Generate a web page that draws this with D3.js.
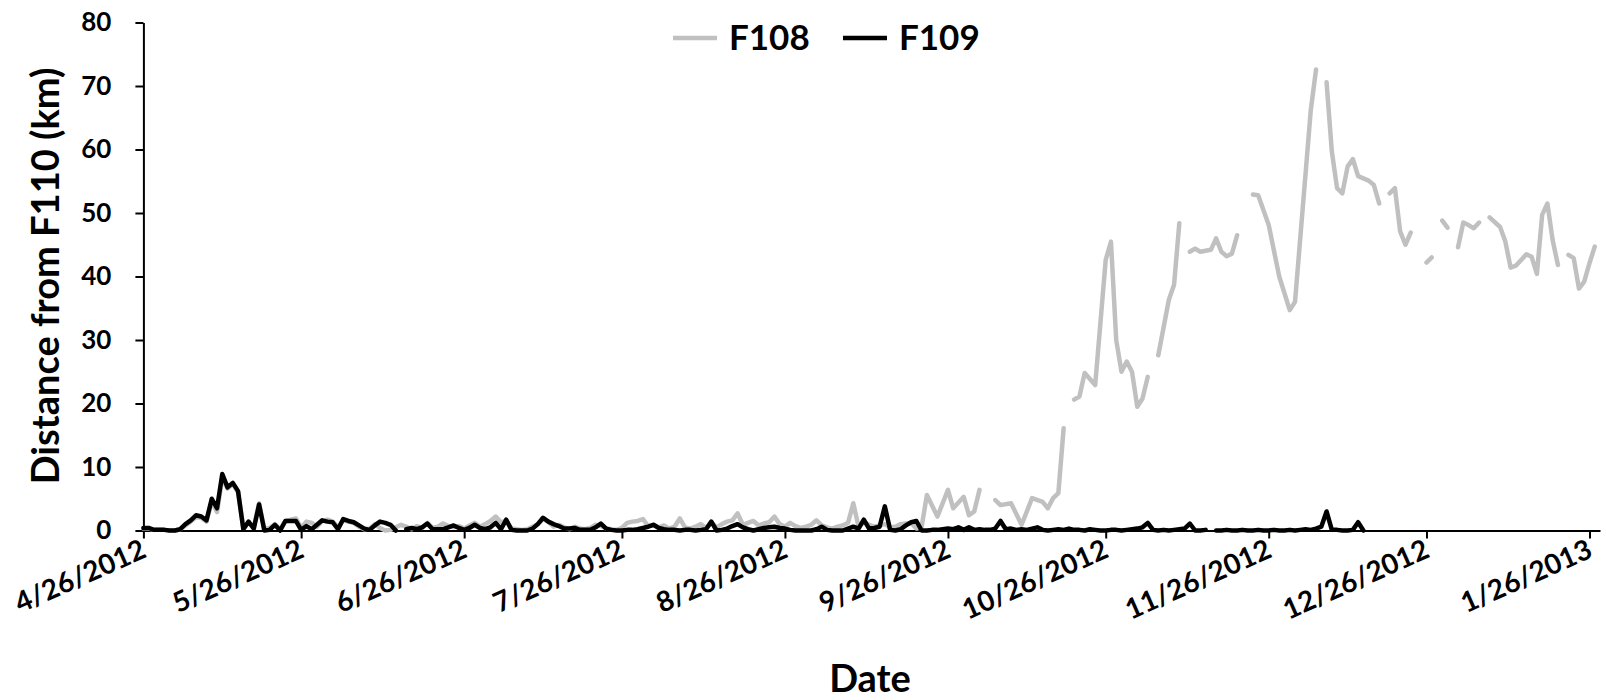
<!DOCTYPE html>
<html>
<head>
<meta charset="utf-8">
<script src="https://cdn.jsdelivr.net/npm/d3@7"></script>
<style>
  body { margin: 0; background: #fff; }
  .chart text { font-family: Lato, "Open Sans", sans-serif; font-weight: bold; fill: #000; }
  .axis path, .axis line { stroke: #000; stroke-width: 2; }
</style>
</head>
<body>
<div class="chart"></div>
<script>

var svgWidth = 1606;
var svgHeight = 700;

var margin = { top: 22.5, right: 6, bottom: 169.5, left: 143.4 };
var width = svgWidth - margin.left - margin.right;
var height = svgHeight - margin.top - margin.bottom;

// x axis runs from the first reading to a couple of days past the last tick
var axisStart = "4/26/2012";
var axisEnd = "1/28/2013";
var tickLabels = ["4/26/2012", "5/26/2012", "6/26/2012", "7/26/2012", "8/26/2012",
  "9/26/2012", "10/26/2012", "11/26/2012", "12/26/2012", "1/26/2013"];
var yTicks = [0, 10, 20, 30, 40, 50, 60, 70, 80];

// F109: one reading per day starting 4/26/2012 (null = missing day)
var f109Values = [
  0.4, 0.4, 0.1, 0.1, 0.1, 0.0, 0.0, 0.2, 1.0, 1.6, 2.4, 2.2, 1.6, 5.0, 3.5, 8.9, 6.8, 7.5, 6.2, 0.2,
  1.4, 0.3, 4.1, 0.0, 0.1, 0.9, 0.0, 1.5, 1.5, 1.5, 0.1, 0.7, 0.2, 0.9, 1.6, 1.4, 1.3, 0.2, 1.8, 1.5,
  1.3, 0.8, 0.3, 0.1, 0.8, 1.4, 1.2, 0.9, 0.0, null, 0.2, 0.4, 0.2, 0.5, 1.1, 0.2, 0.2, 0.2, 0.5, 0.8,
  0.4, 0.1, 0.4, 0.9, 0.4, 0.2, 0.5, 1.2, 0.2, 1.7, 0.1, 0.0, 0.0, 0.0, 0.3, 1.0, 2.0, 1.4, 1.0, 0.7,
  0.3, 0.3, 0.4, 0.1, 0.1, 0.1, 0.5, 1.1, 0.3, 0.1, 0.0, 0.0, 0.1, 0.1, 0.2, 0.4, 0.6, 0.9, 0.4, 0.2,
  0.1, 0.1, 0.0, 0.1, 0.1, 0.0, 0.1, 0.2, 1.4, 0.0, 0.1, 0.3, 0.7, 1.0, 0.5, 0.2, 0.0, 0.2, 0.4, 0.5,
  0.6, 0.4, 0.3, 0.1, 0.0, 0.0, 0.0, 0.0, 0.2, 0.6, 0.1, 0.0, 0.0, 0.0, 0.3, 0.6, 0.3, 1.7, 0.3, 0.4,
  0.6, 3.8, 0.1, 0.0, 0.2, 0.8, 1.3, 1.5, 0.0, 0.0, 0.1, 0.1, 0.2, 0.3, 0.2, 0.5, 0.1, 0.5, 0.1, 0.2,
  0.1, 0.1, 0.3, 1.5, 0.2, 0.3, 0.1, 0.2, 0.1, 0.3, 0.5, 0.1, 0.0, 0.1, 0.2, 0.1, 0.3, 0.1, 0.1, 0.0,
  0.2, 0.1, 0.0, 0.0, 0.1, 0.1, 0.0, 0.1, 0.2, 0.3, 0.5, 1.2, 0.1, 0.0, 0.1, 0.0, 0.1, 0.2, 0.3, 1.1,
  0.0, 0.0, 0.1, null, 0.0, 0.0, 0.1, 0.0, 0.0, 0.1, 0.0, 0.0, 0.1, 0.0, 0.0, 0.1, 0.0, 0.0, 0.1, 0.0,
  0.1, 0.2, 0.1, 0.3, 0.6, 3.0, 0.1, 0.1, 0.0, 0.0, 0.1, 1.3, 0.0
];

// F108: day number since 4/26/2012 and distance (null = gap in the record)
var f108Days = [
  0, 1, 2, 3, 4, 5, 6, 7, 8, 9, 10, 11, 12, 13, 14, 15, 16, 17, 18, 19,
  20, 21, 22, 23, 24, 25, 26, 27, 28, 29, 30, 31, 32, 33, 34, 35, 36, 37, 38, 39,
  40, 41, 42, 43, 44, 45, 46, 47, 48, 49, 50, 51, 52, 53, 54, 55, 56, 57, 58, 59,
  60, 61, 62, 63, 64, 65, 66, 67, 68, 69, 70, 71, 72, 73, 74, 75, 76, 77, 78, 79,
  80, 81, 82, 83, 84, 85, 86, 87, 88, 89, 90, 91, 92, 93, 94, 95, 96, 97, 98, 99,
  100, 101, 102, 103, 104, 105, 106, 107, 108, 109, 110, 111, 112, 113, 114, 115, 116, 117, 118, 119,
  120, 121, 122, 123, 124, 125, 126, 127, 128, 129, 130, 131, 132, 133, 134, 135, 136, 137, 138, 139,
  140, 141, 142, 143, 144, 145, 146, 147, 148,
  149, 151, 153, 154, 156, 157, 158, 159, 160,
  162, 163, 165, 167, 169, 171, 172, 173, 174, 175, 176,
  177, 178, 179, 181, 183, 184, 185, 186, 187, 188, 189, 190, 191, 192,
  193, 195, 196, 197, 198,
  199, 200, 201, 203, 204, 205, 206, 207, 208, 209,
  211, 212, 214, 216, 218, 219, 222, 223, 224,
  225, 226, 227, 228, 229, 230, 231, 233, 234, 235, 236,
  237, 238, 239, 240, 241, 242,
  244, 245, 246,
  247, 248, 249,
  250, 251, 252, 253, 254, 255,
  256, 258, 259, 260, 261, 263, 264, 265, 266, 267, 268, 269, 270,
  271, 272, 273, 274, 275, 276
];
var f108Values = [
  0.3, 0.3, 0.1, 0.1, 0.1, 0.0, 0.0, 0.2, 0.8, 1.4, 2.1, 2.0, 1.4, 4.6, 2.9, 8.3, 6.6, 7.3, 6.0, 0.5,
  1.2, 0.5, 4.3, 0.3, 0.4, 1.0, 0.2, 1.5, 1.7, 1.9, 0.4, 1.4, 1.2, 0.6, 1.5, 1.7, 1.4, 0.5, 1.6, 1.4,
  1.2, 0.6, 0.2, 0.3, 1.0, 0.4, 0.0, 0.1, 0.5, 0.9, 0.6, 0.2, 0.7, 0.4, 1.2, 0.4, 0.6, 1.1, 0.7, 0.5,
  0.7, 0.3, 0.8, 1.2, 0.6, 1.0, 1.5, 2.2, 1.3, 1.5, 0.3, 0.2, 0.1, 0.2, 0.6, 1.0, 1.8, 1.4, 0.6, 0.9,
  0.5, 0.2, 0.6, 0.3, 0.2, 0.4, 0.9, 0.7, 0.3, 0.2, 0.1, 0.4, 1.2, 1.4, 1.5, 1.8, 0.7, 0.9, 0.5, 0.8,
  0.3, 0.6, 1.9, 0.5, 0.3, 0.6, 1.0, 0.4, 1.3, 0.5, 1.0, 1.4, 1.6, 2.7, 0.9, 1.2, 1.5, 0.8, 1.1, 1.3,
  2.2, 1.0, 0.6, 1.2, 0.7, 0.4, 0.6, 0.9, 1.6, 0.8, 0.5, 0.3, 0.6, 0.8, 1.2, 4.3, 0.6, 1.3, 0.9, 0.6,
  0.8, 1.0, 0.5, 0.6, 1.0, 1.1, 1.2, 0.3, 0.6,
  5.6, 2.2, 6.4, 3.5, 5.3, 2.4, 3.0, 6.4, null,
  4.8, 4.0, 4.3, 0.9, 5.1, 4.5, 3.5, 5.1, 5.9, 16.1, null,
  20.6, 21.1, 24.8, 22.9, 42.6, 45.5, 30.0, 25.0, 26.6, 25.0, 19.5, 20.8, 24.2, null,
  27.6, 36.3, 38.7, 48.4, null,
  43.9, 44.4, 43.9, 44.2, 46.0, 43.9, 43.2, 43.6, 46.5, null,
  52.9, 52.8, 48.1, 40.0, 34.7, 36.0, 66.2, 72.6, null,
  70.6, 59.7, 53.9, 53.1, 57.3, 58.5, 55.8, 55.1, 54.4, 51.5, null,
  53.1, 53.9, 47.1, 45.0, 46.9, null,
  42.2, 43.0, null,
  48.8, 47.7, null,
  44.6, 48.5, 48.1, 47.6, 48.5, null,
  49.3, 47.8, 45.5, 41.4, 41.7, 43.5, 43.1, 40.4, 49.7, 51.5, 45.7, 41.8, null,
  43.4, 42.9, 38.1, 39.2, 42.1, 44.7
];

var parseDate = d3.timeParse("%m/%d/%Y");
var start = parseDate(axisStart);

var f108 = f108Days.map(function(d, i) {
  return { date: d3.timeDay.offset(start, d), value: f108Values[i] };
});
var f109 = f109Values.map(function(v, i) {
  return { date: d3.timeDay.offset(start, i), value: v };
});

var svg = d3.select(".chart")
  .append("svg")
  .attr("width", svgWidth)
  .attr("height", svgHeight);

var chartGroup = svg.append("g").attr("transform", `translate(${margin.left}, ${margin.top})`);

// scales
var xTimeScale = d3.scaleTime()
  .domain([start, parseDate(axisEnd)])
  .range([0, width]);
var yLinearScale = d3.scaleLinear().domain([0, 80]).range([height, 0]);

// axes
var xaxis = d3.axisBottom(xTimeScale)
  .tickValues(tickLabels.map(parseDate))
  .tickFormat(d3.timeFormat("%-m/%-d/%Y"))
  .tickSize(8)
  .tickSizeOuter(0);
var yaxis = d3.axisLeft(yLinearScale)
  .tickValues(yTicks)
  .tickSize(8)
  .tickSizeOuter(0)
  .tickPadding(24);

var xGroup = chartGroup.append("g")
  .attr("class", "axis")
  .attr("transform", `translate(0, ${height})`)
  .call(xaxis);
xGroup.selectAll("text")
  .attr("x", 0)
  .attr("y", 0)
  .attr("dy", 0)
  .attr("text-anchor", "end")
  .attr("transform", "translate(4, 26) rotate(-24)")
  .style("font-size", "28px");

var yGroup = chartGroup.append("g")
  .attr("class", "axis")
  .call(yaxis);
yGroup.selectAll("text").style("font-size", "26px");

// lines
var line = d3.line()
  .defined(d => d.value !== null)
  .x(d => xTimeScale(d.date))
  .y(d => yLinearScale(d.value));

chartGroup.append("path")
  .datum(f108)
  .attr("d", line)
  .attr("fill", "none")
  .attr("stroke", "#c0c0c0")
  .attr("stroke-width", 4.5)
  .attr("stroke-linejoin", "round")
  .attr("stroke-linecap", "round");

chartGroup.append("path")
  .datum(f109)
  .attr("d", line)
  .attr("fill", "none")
  .attr("stroke", "#000")
  .attr("stroke-width", 4.5)
  .attr("stroke-linejoin", "round")
  .attr("stroke-linecap", "round");

// legend
var legend = svg.append("g").attr("transform", "translate(673, 38)");
var legendItems = [
  { name: "F108", color: "#c0c0c0", x: 0 },
  { name: "F109", color: "#000", x: 170 }
];
legendItems.forEach(function(item) {
  legend.append("line")
    .attr("x1", item.x).attr("x2", item.x + 44)
    .attr("y1", 0).attr("y2", 0)
    .attr("stroke", item.color)
    .attr("stroke-width", 4.5);
  legend.append("text")
    .attr("x", item.x + 56)
    .attr("y", 12)
    .style("font-size", "35px")
    .text(item.name);
});

// labels
svg.append("text")
  .attr("transform", "translate(46, 276) rotate(-90)")
  .attr("text-anchor", "middle")
  .attr("dy", "0.35em")
  .style("font-size", "38px")
  .text("Distance from F110 (km)");

svg.append("text")
  .attr("x", 870)
  .attr("y", 692)
  .attr("text-anchor", "middle")
  .style("font-size", "38px")
  .text("Date");

</script>
</body>
</html>
